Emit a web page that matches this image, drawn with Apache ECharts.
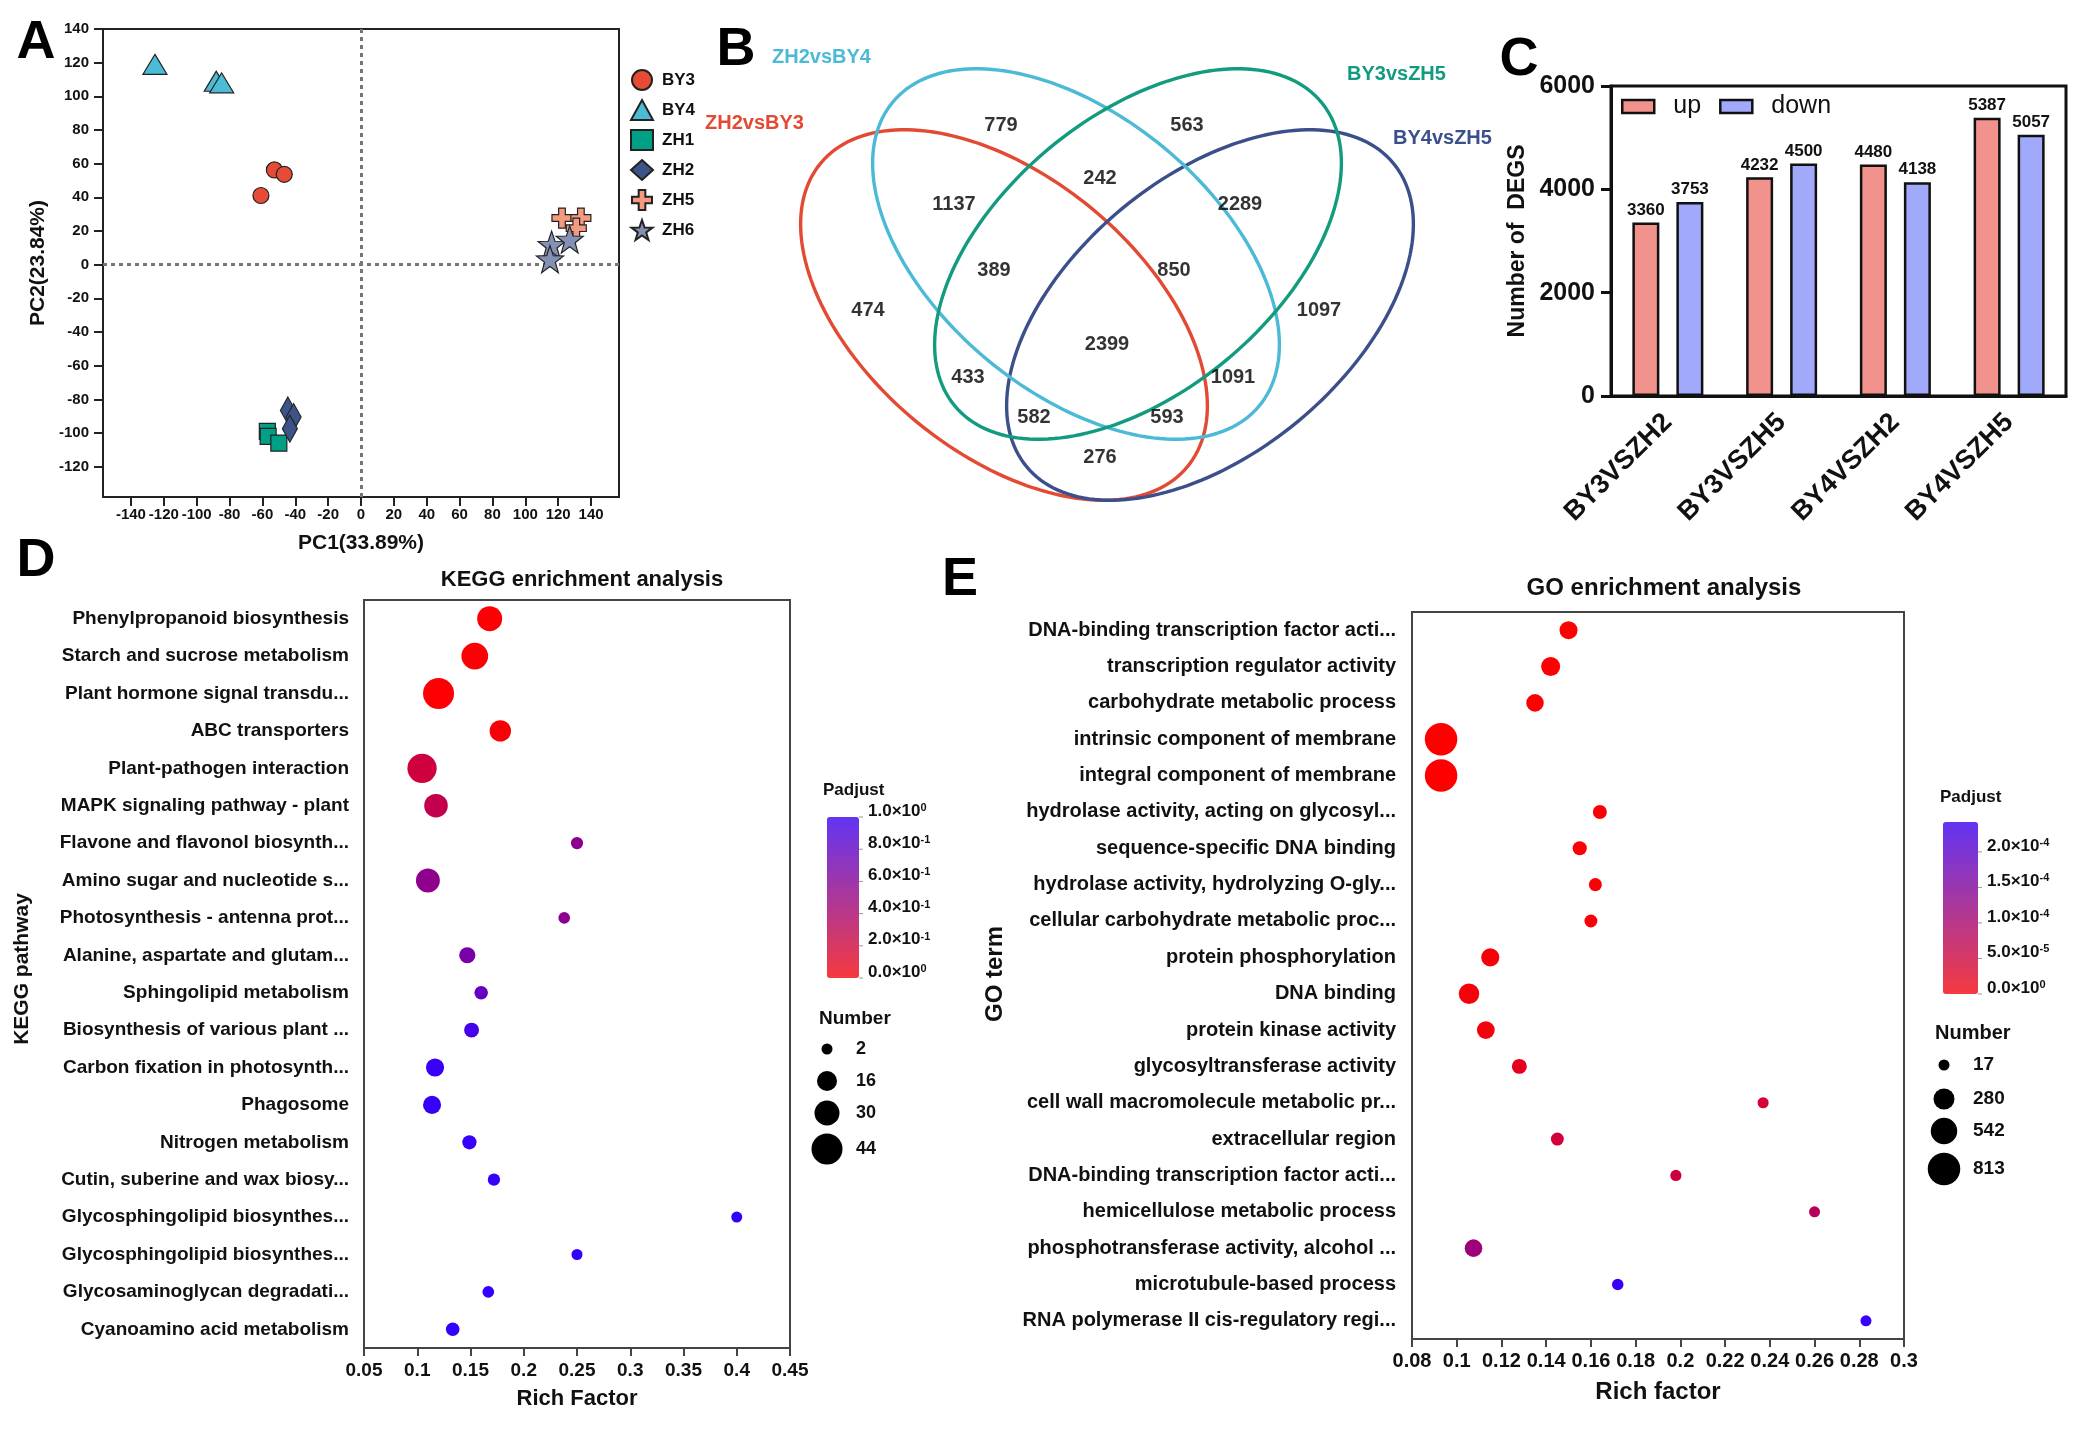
<!DOCTYPE html>
<html>
<head>
<meta charset="utf-8">
<script src="https://cdn.jsdelivr.net/npm/echarts@6/dist/echarts.min.js"></script>
<style>
  html, body { margin: 0; padding: 0; background: #fff; }
  #fig { width: 2093px; height: 1433px; }
</style>
</head>
<body>
<div id="fig"></div>
<script>
// ---------- data ----------
// A: PCA scores (PC1, PC2)
const pcaGroups = ['BY3', 'BY4', 'ZH1', 'ZH2', 'ZH5', 'ZH6'];
const pcaBY3 = [[-52.7, 56.3], [-46.7, 53.7], [-60.9, 41.1]];
const pcaBY4 = [[-125.4, 119], [-88.1, 109], [-84.8, 108]];
const pcaZH1 = [[-57, -99], [-56.5, -102], [-50, -106]];
const pcaZH2 = [[-44.5, -86.6], [-41, -90.5], [-43.3, -97.4]];
const pcaZH5 = [[122.3, 27.7], [133.8, 27.7], [131, 21.7]];
const pcaZH6 = [[116, 11.9], [127, 15], [115, 3.3]];
const pcaTicks = [-140, -120, -100, -80, -60, -40, -20, 0, 20, 40, 60, 80, 100, 120, 140];

// B: Venn
const vennSets = ['ZH2vsBY3', 'ZH2vsBY4', 'BY3vsZH5', 'BY4vsZH5'];
const vennCounts = [779, 563, 242, 1137, 2289, 389, 850, 474, 1097, 2399, 433, 1091, 582, 593, 276];

// C: DEG numbers
const degCats = ['BY3VSZH2', 'BY3VSZH5', 'BY4VSZH2', 'BY4VSZH5'];
const degUp = [3360, 4232, 4480, 5387];
const degDown = [3753, 4500, 4138, 5057];

// D: KEGG enrichment
const keggTerms = [
  'Phenylpropanoid biosynthesis',
  'Starch and sucrose metabolism',
  'Plant hormone signal transdu...',
  'ABC transporters',
  'Plant-pathogen interaction',
  'MAPK signaling pathway - plant',
  'Flavone and flavonol biosynth...',
  'Amino sugar and nucleotide s...',
  'Photosynthesis - antenna prot...',
  'Alanine, aspartate and glutam...',
  'Sphingolipid metabolism',
  'Biosynthesis of various plant ...',
  'Carbon fixation in photosynth...',
  'Phagosome',
  'Nitrogen metabolism',
  'Cutin, suberine and wax biosy...',
  'Glycosphingolipid biosynthes...',
  'Glycosphingolipid biosynthes...',
  'Glycosaminoglycan degradati...',
  'Cyanoamino acid metabolism'
];
const keggRich = [0.168, 0.154, 0.120, 0.178, 0.1045, 0.1176, 0.25, 0.110, 0.238, 0.147,
                  0.160, 0.151, 0.1167, 0.1139, 0.149, 0.172, 0.40, 0.25, 0.1667, 0.1333];
const keggCount = [30, 34, 44, 20, 40, 26, 4, 27, 3, 10, 6, 8, 13, 13, 7, 4, 2, 2, 3, 6];
const keggPadj = [0.01, 0.02, 0.01, 0.03, 0.24, 0.30, 0.56, 0.55, 0.57, 0.66,
                  0.76, 0.92, 0.97, 0.98, 0.98, 0.99, 1, 1, 1, 1];
const keggSizeTicks = [2, 16, 30, 44];
const keggPadjTicks = [1.0, 0.8, 0.6, 0.4, 0.2, 0];

// E: GO enrichment
const goTerms = [
  'DNA-binding transcription factor acti...',
  'transcription regulator activity',
  'carbohydrate metabolic process',
  'intrinsic component of membrane',
  'integral component of membrane',
  'hydrolase activity, acting on glycosyl...',
  'sequence-specific DNA binding',
  'hydrolase activity, hydrolyzing O-gly...',
  'cellular carbohydrate metabolic proc...',
  'protein phosphorylation',
  'DNA binding',
  'protein kinase activity',
  'glycosyltransferase activity',
  'cell wall macromolecule metabolic pr...',
  'extracellular region',
  'DNA-binding transcription factor acti...',
  'hemicellulose metabolic process',
  'phosphotransferase activity, alcohol ...',
  'microtubule-based process',
  'RNA polymerase II cis-regulatory regi...'
];
const goRich = [0.150, 0.142, 0.135, 0.093, 0.093, 0.164, 0.155, 0.162, 0.160, 0.115,
                0.1055, 0.113, 0.128, 0.237, 0.145, 0.198, 0.260, 0.1075, 0.172, 0.283];
const goCount = [201, 227, 188, 813, 813, 96, 100, 70, 68, 205, 267, 195, 122, 20, 68, 22, 17, 190, 30, 17];
const goPadj = [2e-7, 1e-6, 2e-6, 1e-12, 1e-12, 3e-6, 4e-6, 5e-6, 6e-6, 8e-6,
                1e-5, 1.2e-5, 2.8e-5, 5e-5, 5.5e-5, 6e-5, 8.5e-5, 1.15e-4, 2.35e-4, 2.4e-4];
const goSizeTicks = [17, 280, 542, 813];
const goPadjTicks = [2e-4, 1.5e-4, 1e-4, 5e-5, 0];

// ---------- layout / style ----------
const FONT = '"Liberation Sans", Arial, Helvetica, sans-serif';
function hasFont(name) {
  const c = document.createElement('canvas').getContext('2d');
  c.font = '40px monospace';
  const w = c.measureText('abcdefghijklmn0123').width;
  c.font = '40px "' + name + '", monospace';
  return c.measureText('abcdefghijklmn0123').width !== w;
}
const narrowOk = hasFont('Liberation Sans Narrow');
const NARROW = narrowOk ? '"Liberation Sans Narrow", ' + FONT : FONT;
const INK = '#111';

const pcaStyle = {
  BY3: { symbol: 'circle', size: 16, color: '#E64B35' },
  BY4: { symbol: 'triangle', size: [24, 20], color: '#4DBBD5' },
  ZH1: { symbol: 'rect', size: 16, color: '#00A087' },
  ZH2: { symbol: 'diamond', size: [15, 27], color: '#3C5488' },
  ZH5: { symbol: 'path://M-1,-3H1V-1H3V1H1V3H-1V1H-3V-1H-1Z', size: 20, color: '#F39B7F' },
  ZH6: { symbol: 'path://M0,-50L11.76,-16.18L47.55,-15.45L19.02,6.18L29.39,40.45L0,20L-29.39,40.45L-19.02,6.18L-47.55,-15.45L-11.76,-16.18Z', size: 27, color: '#8491B4' }
};
const pcaData = { BY3: pcaBY3, BY4: pcaBY4, ZH1: pcaZH1, ZH2: pcaZH2, ZH5: pcaZH5, ZH6: pcaZH6 };

// Venn geometry (page pixels)
const vennBox = { left: 700, top: 0, width: 780, height: 530 };
const vennEllipses = [
  { cx: 1004, cy: 315, a: 238, b: 138, ang: 39.6, color: '#E24A33' },
  { cx: 1210, cy: 315, a: 238, b: 138, ang: -39.6, color: '#3B4F8A' },
  { cx: 1076, cy: 254, a: 238, b: 138, ang: 39.6, color: '#4CBAD6' },
  { cx: 1138, cy: 254, a: 238, b: 138, ang: -39.6, color: '#129B7F' }
];
const vennNamePos = [[705, 123], [772, 57], [1347, 74], [1393, 138]];
const vennLabelPos = [[1001, 125], [1187, 125], [1100, 178], [954, 204], [1240, 204], [994, 270], [1174, 270],
  [868, 310], [1319, 310], [1107, 344], [968, 377], [1233, 377], [1034, 417], [1167, 417], [1100, 457]];

const keggDiam = [11, 20, 25, 31];
const goDiam = [11, 21, 26.5, 32.5];
const keggBar = { left: 827, top: 817, width: 32, height: 161, max: 1 };
const goBar = { left: 1943, top: 822, width: 35, height: 172, max: 2.42e-4 };

function sizeScale(v, vals, diams) {
  if (v <= vals[0]) return diams[0];
  for (let i = 1; i < vals.length; i++) {
    if (v <= vals[i]) {
      const t = (v - vals[i - 1]) / (vals[i] - vals[i - 1]);
      return diams[i - 1] + t * (diams[i] - diams[i - 1]);
    }
  }
  return diams[diams.length - 1];
}

function sciParts(v) {
  if (v === 0) return ['0.0', '0'];
  const e = Math.floor(Math.log10(v) + 1e-9);
  return [(v / Math.pow(10, e)).toFixed(1), String(e)];
}

function txt(x, y, text, o) {
  o = o || {};
  return {
    type: 'text', x: x, y: y, rotation: o.rotation || 0, z: 20,
    style: {
      text: text, fill: o.color || INK,
      fontSize: o.size || 18, fontWeight: o.weight || 'bold', fontFamily: o.family || FONT,
      align: o.align || 'left', verticalAlign: o.valign || 'middle',
      textAlign: o.align || 'left', textVerticalAlign: o.valign || 'middle',
      rich: o.rich
    }
  };
}

// ---------- graphic decorations ----------
const graphics = [];
[['A', 36, 43], ['B', 736, 50], ['C', 1519, 60], ['D', 36, 561], ['E', 960, 580]].forEach(p => {
  graphics.push(txt(p[1], p[2], p[0], { size: 54, align: 'center', color: '#000' }));
});

vennEllipses.forEach(e => {
  const th = e.ang * Math.PI / 180;
  const pts = [];
  for (let k = 0; k < 180; k++) {
    const t = k / 180 * Math.PI * 2;
    pts.push([
      e.cx + e.a * Math.cos(t) * Math.cos(th) - e.b * Math.sin(t) * Math.sin(th),
      e.cy + e.a * Math.cos(t) * Math.sin(th) + e.b * Math.sin(t) * Math.cos(th)
    ]);
  }
  graphics.push({ type: 'polygon', z: 1, shape: { points: pts }, style: { fill: 'none', stroke: e.color, lineWidth: 3.4 } });
});
vennSets.forEach((s, i) => {
  graphics.push(txt(vennNamePos[i][0], vennNamePos[i][1], s, { size: 20, color: vennEllipses[[0, 2, 3, 1][i]].color }));
});

graphics.push(txt(582, 580, 'KEGG enrichment analysis', { size: 22, align: 'center' }));
graphics.push(txt(1664, 588, 'GO enrichment analysis', { size: 24, align: 'center' }));
graphics.push(txt(22, 969, 'KEGG pathway', { size: 21, align: 'center', rotation: Math.PI / 2 }));
graphics.push(txt(995, 974, 'GO term', { size: 24, align: 'center', rotation: Math.PI / 2 }));

function colorbarLabels(bar, ticks, titleX, titleY, fs) {
  graphics.push(txt(titleX, titleY, 'Padjust', { size: 17 }));
  ticks.forEach(v => {
    const y = bar.top + (1 - v / bar.max) * bar.height;
    const p = sciParts(v);
    graphics.push({ type: 'line', z: 20, shape: { x1: bar.left + bar.width, y1: y, x2: bar.left + bar.width + 4, y2: y },
      style: { stroke: '#999', lineWidth: 1 } });
    graphics.push(txt(bar.left + bar.width + 9, y - 6, '{m|' + p[0] + '×10}{s|' + p[1] + '}', {
      size: fs,
      rich: {
        m: { fontSize: fs, fontWeight: 'bold', fontFamily: FONT, fill: INK, color: INK },
        s: { fontSize: Math.round(fs * 0.65), fontWeight: 'bold', fontFamily: FONT, fill: INK, color: INK, verticalAlign: 'top' }
      }
    }));
  });
}
colorbarLabels(keggBar, keggPadjTicks, 823, 790, 17);
colorbarLabels(goBar, goPadjTicks, 1940, 797, 17);

function sizeLegend(vals, diams, titleX, titleY, cx, cys, labelX, fs) {
  graphics.push(txt(titleX, titleY, 'Number', { size: fs + 1 }));
  vals.forEach((v, i) => {
    graphics.push({ type: 'circle', z: 20, shape: { cx: cx, cy: cys[i], r: sizeScale(v, vals, diams) / 2 }, style: { fill: '#000' } });
    graphics.push(txt(labelX, cys[i], String(v), { size: fs }));
  });
}
sizeLegend(keggSizeTicks, keggDiam, 819, 1019, 827, [1049, 1081, 1113, 1149], 856, 18);
sizeLegend(goSizeTicks, goDiam, 1935, 1033, 1944, [1065, 1099, 1131, 1169], 1973, 19);

// ---------- option ----------
const boldLabel = (size, extra) => Object.assign({ fontWeight: 'bold', fontSize: size, fontFamily: FONT, color: INK }, extra || {});

const series = [];
pcaGroups.forEach((g, i) => {
  const st = pcaStyle[g];
  const s = {
    name: g, type: 'scatter', xAxisIndex: 0, yAxisIndex: 0,
    symbol: st.symbol, symbolSize: st.size, data: pcaData[g],
    itemStyle: { color: st.color, borderColor: '#222', borderWidth: 1.2, opacity: 1 },
    z: 5 + i
  };
  if (i === 0) {
    s.markLine = {
      silent: true, symbol: 'none', label: { show: false }, z: 1,
      lineStyle: { color: '#777', width: 3, type: [4, 4] },
      data: [{ xAxis: 0 }, { yAxis: 0 }]
    };
  }
  series.push(s);
});

series.push({
  type: 'scatter', xAxisIndex: 1, yAxisIndex: 1, symbolSize: 0, z: 10,
  data: vennCounts.map((c, i) => [vennLabelPos[i][0] - vennBox.left, vennLabelPos[i][1] - vennBox.top, c]),
  label: { show: true, position: 'inside', formatter: p => p.data[2], fontSize: 20, fontWeight: 'bold', fontFamily: FONT, color: '#000' }
});

const barCommon = {
  type: 'bar', xAxisIndex: 2, yAxisIndex: 2, barWidth: 27, barGap: '63%',
  label: { show: true, position: 'top', distance: 4, fontSize: 17, fontWeight: 'bold', fontFamily: FONT, color: INK }
};
series.push(Object.assign({}, barCommon, { name: 'up', data: degUp,
  itemStyle: { color: '#F2928D', borderColor: '#111', borderWidth: 2.5 } }));
series.push(Object.assign({}, barCommon, { name: 'down', data: degDown,
  itemStyle: { color: '#A0A9FA', borderColor: '#111', borderWidth: 2.5 } }));

series.push({
  type: 'scatter', xAxisIndex: 3, yAxisIndex: 3, z: 5,
  data: keggTerms.map((t, i) => [keggRich[i], i, keggCount[i], keggPadj[i]]),
  symbolSize: v => sizeScale(v[2], keggSizeTicks, keggDiam),
  itemStyle: { opacity: 1 }
});
series.push({
  type: 'scatter', xAxisIndex: 4, yAxisIndex: 4, z: 5,
  data: goTerms.map((t, i) => [goRich[i], i, goCount[i], goPadj[i]]),
  symbolSize: v => sizeScale(v[2], goSizeTicks, goDiam),
  itemStyle: { opacity: 1 }
});

const axisDark = (w, c) => ({ show: true, onZero: false, lineStyle: { color: c || '#222', width: w } });
const pcaFont = narrowOk ? 17 : 15;

const option = {
  backgroundColor: '#fff',
  animation: false,
  textStyle: { fontFamily: FONT },
  grid: [
    { left: 103, top: 29, width: 516, height: 468, show: true, borderColor: '#222', borderWidth: 2 },
    { left: vennBox.left, top: vennBox.top, width: vennBox.width, height: vennBox.height, show: false },
    { left: 1611, top: 86, width: 455, height: 310, show: true, borderColor: '#111', borderWidth: 3 },
    { left: 364, top: 600, width: 426, height: 748, show: true, borderColor: '#444', borderWidth: 2 },
    { left: 1412, top: 612, width: 492, height: 727, show: true, borderColor: '#444', borderWidth: 2 }
  ],
  xAxis: [
    { type: 'value', gridIndex: 0, min: -157, max: 157, splitLine: { show: false },
      axisLine: axisDark(2), axisTick: { show: true, length: 9, customValues: pcaTicks, lineStyle: { color: '#222', width: 2 } },
      axisLabel: { customValues: pcaTicks, margin: 10, fontSize: pcaFont, fontWeight: 'bold', fontFamily: NARROW, color: INK,
        hideOverlap: false, showMinLabel: true, showMaxLabel: true },
      name: 'PC1(33.89%)', nameLocation: 'middle', nameGap: 36, nameTextStyle: boldLabel(21) },
    { type: 'value', gridIndex: 1, min: 0, max: vennBox.width, show: false },
    { type: 'category', gridIndex: 2, data: degCats, axisLine: axisDark(3, '#111'),
      axisTick: { alignWithLabel: true, length: 9, lineStyle: { width: 3, color: '#111' } },
      axisLabel: { rotate: 45, margin: 22, fontSize: 27, fontWeight: 'bold', fontFamily: FONT, color: INK, interval: 0 } },
    { type: 'value', gridIndex: 3, min: 0.05, max: 0.45, interval: 0.05, splitLine: { show: false },
      axisLine: axisDark(2, '#444'), axisTick: { show: true, length: 8, lineStyle: { color: '#444', width: 2 } },
      axisLabel: { margin: 13, fontSize: 19, fontWeight: 'bold', fontFamily: FONT, color: INK },
      name: 'Rich Factor', nameLocation: 'middle', nameGap: 40, nameTextStyle: boldLabel(22) },
    { type: 'value', gridIndex: 4, min: 0.08, max: 0.3, interval: 0.02, splitLine: { show: false },
      axisLine: axisDark(2, '#444'), axisTick: { show: true, length: 8, lineStyle: { color: '#444', width: 2 } },
      axisLabel: { margin: 12, fontSize: 20, fontWeight: 'bold', fontFamily: FONT, color: INK },
      name: 'Rich factor', nameLocation: 'middle', nameGap: 41, nameTextStyle: boldLabel(24) }
  ],
  yAxis: [
    { type: 'value', gridIndex: 0, min: -138, max: 140, splitLine: { show: false },
      axisLine: axisDark(2), axisTick: { show: true, length: 9, customValues: pcaTicks.slice(1), lineStyle: { color: '#222', width: 2 } },
      axisLabel: { customValues: pcaTicks.slice(1), margin: 14, fontSize: pcaFont, fontWeight: 'bold', fontFamily: NARROW, color: INK,
        showMinLabel: true, showMaxLabel: true },
      name: 'PC2(23.84%)', nameLocation: 'middle', nameGap: 54, nameTextStyle: boldLabel(21) },
    { type: 'value', gridIndex: 1, min: 0, max: vennBox.height, inverse: true, show: false },
    { type: 'value', gridIndex: 2, min: 0, max: 6000, interval: 2000, splitLine: { show: false },
      axisLine: axisDark(3, '#111'), axisTick: { show: true, length: 10, lineStyle: { width: 3, color: '#111' } },
      axisLabel: { margin: 16, fontSize: 25, fontWeight: 'bold', fontFamily: FONT, color: INK, formatter: v => String(v) },
      name: 'Number of  DEGS', nameLocation: 'middle', nameGap: 82, nameTextStyle: boldLabel(23) },
    { type: 'category', gridIndex: 3, data: keggTerms, inverse: true,
      axisLine: axisDark(2, '#444'), axisTick: { alignWithLabel: true, length: 9, lineStyle: { color: '#444', width: 2 } },
      axisLabel: { interval: 0, margin: 15, fontSize: 19, fontWeight: 'bold', fontFamily: FONT, color: INK } },
    { type: 'category', gridIndex: 4, data: goTerms, inverse: true,
      axisLine: axisDark(2, '#444'), axisTick: { alignWithLabel: true, length: 9, lineStyle: { color: '#444', width: 2 } },
      axisLabel: { interval: 0, margin: 16, fontSize: 20, fontWeight: 'bold', fontFamily: FONT, color: INK } }
  ],
  legend: [
    { data: pcaGroups, orient: 'vertical', left: 630, top: 69, itemWidth: 22, itemHeight: 20, itemGap: 8,
      padding: 0, selectedMode: false, textStyle: { fontSize: 17, fontWeight: 'bold', fontFamily: FONT, color: INK, padding: [0, 0, 0, 4] } },
    { data: ['up', 'down'], orient: 'horizontal', left: 1621, top: 94, itemWidth: 32, itemHeight: 13, itemGap: 18,
      padding: 0, selectedMode: false, icon: 'rect', itemStyle: { borderColor: '#111', borderWidth: 2.5 },
      textStyle: { fontSize: 25, fontFamily: FONT, color: INK, padding: [0, 0, 0, 14] } }
  ],
  visualMap: [
    { type: 'continuous', seriesIndex: 9, dimension: 3, min: 0, max: keggBar.max, calculable: false, text: null,
      orient: 'vertical', left: keggBar.left, top: keggBar.top, itemWidth: keggBar.width, itemHeight: keggBar.height, padding: 0,
      inRange: { color: ['#ff0000', '#3300ff'] },
      controller: { inRange: { color: ['#f53a3f', '#6234f3'] } } },
    { type: 'continuous', seriesIndex: 10, dimension: 3, min: 0, max: goBar.max, calculable: false, text: null,
      orient: 'vertical', left: goBar.left, top: goBar.top, itemWidth: goBar.width, itemHeight: goBar.height, padding: 0,
      inRange: { color: ['#ff0000', '#3300ff'] },
      controller: { inRange: { color: ['#f53a3f', '#6234f3'] } } }
  ],
  graphic: graphics,
  series: series
};

const chart = echarts.init(document.getElementById('fig'), null, { renderer: 'canvas' });
chart.setOption(option);
</script>
</body>
</html>
